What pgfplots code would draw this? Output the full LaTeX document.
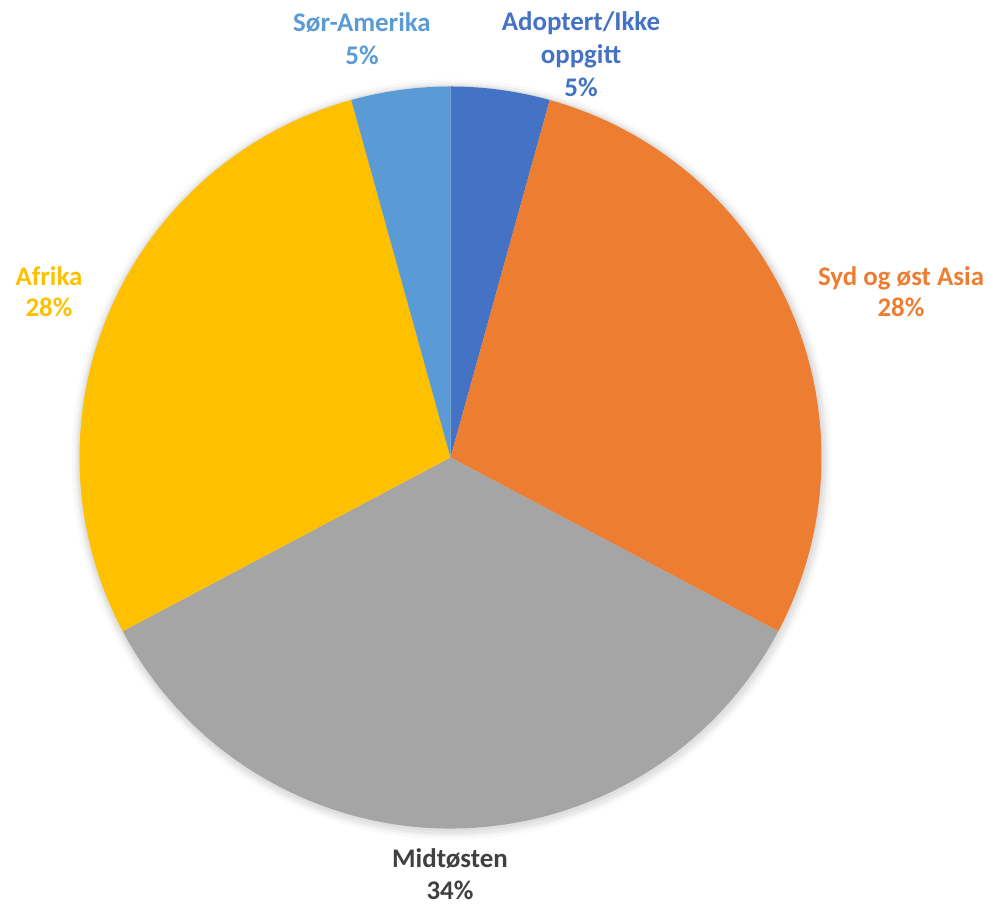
\documentclass[border=0pt]{standalone}
\usepackage{pgfplots}
\pgfplotsset{compat=1.18}
\usepackage{fontspec}
\setmainfont{Carlito}
\definecolor{cblue}{HTML}{4472C4}
\definecolor{corange}{HTML}{ED7D31}
\definecolor{cgrey}{HTML}{A5A5A5}
\definecolor{cyellow}{HTML}{FFC000}
\definecolor{clblue}{HTML}{5B9BD5}
\definecolor{cdark}{HTML}{404040}
% slice: colour, start angle, end angle  (counts 5, 33, 40, 33, 5 of 116)
\newcommand\slice[3]{%
  \begin{pgfscope}%
  \pgfsetfillcolor{#1}%
  \pgfpathmoveto{\pgfplotspointaxisxy{450.5}{447.5}}%
  \pgfpathlineto{\pgfpointadd{\pgfplotspointaxisxy{450.5}{447.5}}{\pgfpointpolar{#2}{371bp}}}%
  \pgfpatharc{#2}{#3}{371bp}%
  \pgfpathclose
  \pgfusepath{fill}%
  \end{pgfscope}}
\newcommand\shadow[4]{%
  \begin{pgfscope}%
  \pgfsetfillcolor{black}\pgfsetfillopacity{#4}%
  \pgfpathcircle{\pgfplotspointaxisxy{#1}{#2}}{#3}%
  \pgfusepath{fill}%
  \end{pgfscope}}
\begin{document}
\begin{tikzpicture}
\begin{axis}[width=988bp,height=905bp,scale only axis,hide axis,
  xmin=0,xmax=988,ymin=0,ymax=905,clip=false]
\path (axis cs:0,0) rectangle (axis cs:988,905);
\pgfplotsextra{%
  \shadow{451.5}{445.5}{380bp}{0.025}%
  \shadow{451.5}{445.5}{377bp}{0.03}%
  \shadow{451.5}{445.5}{375bp}{0.035}%
  \shadow{451}{446.5}{373bp}{0.04}%
  \slice{cblue}{90}{74.483}%
  \slice{corange}{74.483}{-27.931}%
  \slice{cgrey}{-27.931}{-152.069}%
  \slice{cyellow}{-152.069}{-254.483}%
  \slice{clblue}{-254.483}{-270}%
}
\tikzset{lab/.style={anchor=base,font=\bfseries\fontsize{27}{32}\selectfont}}
\node[lab,text=clblue] at (axis cs:362,873.5) {Sør-Amerika};
\node[lab,text=clblue] at (axis cs:362,840.5) {5\%};
\node[lab,text=cblue] at (axis cs:581,874.5) {Adoptert/Ikke};
\node[lab,text=cblue] at (axis cs:581,841.5) {oppgitt};
\node[lab,text=cblue] at (axis cs:581,808.5) {5\%};
\node[lab,text=corange] at (axis cs:901,619.5) {Syd og øst Asia};
\node[lab,text=corange] at (axis cs:901,588.5) {28\%};
\node[lab,text=cyellow] at (axis cs:49,619.5) {Afrika};
\node[lab,text=cyellow] at (axis cs:49,588.5) {28\%};
\node[lab,text=cdark] at (axis cs:450,37) {Midtøsten};
\node[lab,text=cdark] at (axis cs:450,5.5) {34\%};
\end{axis}
\end{tikzpicture}
\end{document}
